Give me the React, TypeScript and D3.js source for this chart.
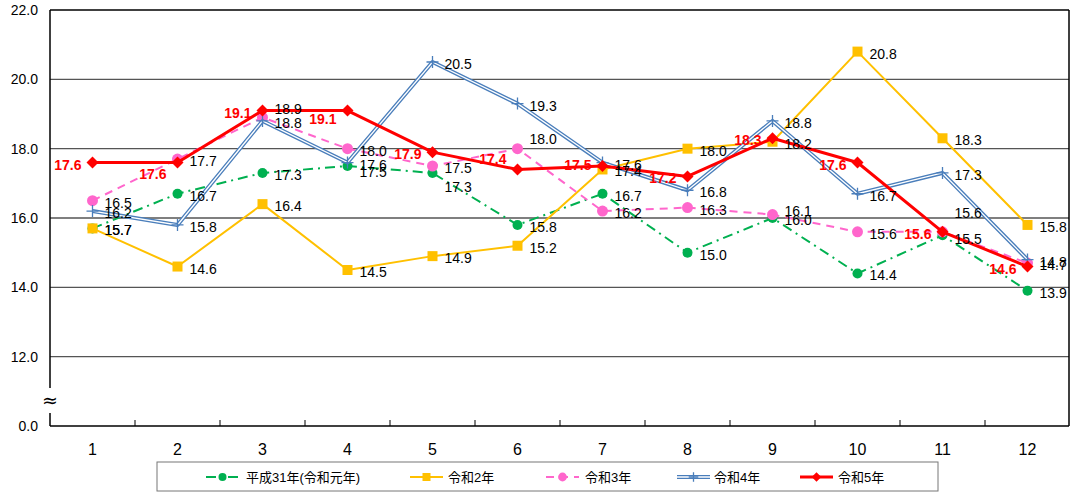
import React from "react";
import * as d3 from "d3";

const months = ["1", "2", "3", "4", "5", "6", "7", "8", "9", "10", "11", "12"];
const h31 = [15.7, 16.7, 17.3, 17.5, 17.3, 15.8, 16.7, 15.0, 16.0, 14.4, 15.5, 13.9];
const r2 = [15.7, 14.6, 16.4, 14.5, 14.9, 15.2, 17.4, 18.0, 18.2, 20.8, 18.3, 15.8];
const r3 = [16.5, 17.7, 18.9, 18.0, 17.5, 18.0, 16.2, 16.3, 16.1, 15.6, 15.6, 14.7];
const r4 = [16.2, 15.8, 18.8, 17.6, 20.5, 19.3, 17.6, 16.8, 18.8, 16.7, 17.3, 14.8];
const r5 = [17.6, 17.6, 19.1, 19.1, 17.9, 17.4, 17.5, 17.2, 18.3, 17.6, 15.6, 14.6];
const yTicks = [10, 12, 14, 16, 18, 20, 22];
const seriesNames = ["平成31年(令和元年)", "令和2年", "令和3年", "令和4年", "令和5年"];

// hand-moved data labels (series key -> month index -> vertical nudge in px)
const labelNudge: Record<string, Record<number, number>> = {
  h31: { 4: 12, 3: 4, 10: 2 },
  r3: { 2: -10, 5: -12, 8: -6, 10: -21 },
  r5: { 1: 9, 3: 6, 5: -12, 6: -3 },
};

const W = 1070;
const H = 493;
const left = 50, right = 1069, top = 10, bottom = 426;
const font = "'Liberation Sans', Arial, 'Noto Sans CJK JP', sans-serif";

const x = d3.scaleBand<string>().domain(months).range([left, right + 1]).padding(0);
const y = d3.scaleLinear().domain([10, 22]).range([bottom, top]);
const cx = (m: string) => (x(m) as number) + x.bandwidth() / 2;

type Kind = "circle" | "square" | "diamond" | "plus";

const styles = [
  { key: "h31", name: seriesNames[0], data: h31, color: "#00B050", dash: "10,5,2,5", width: 2, kind: "circle" as Kind, size: 5 },
  { key: "r2", name: seriesNames[1], data: r2, color: "#FFC000", dash: "", width: 2, kind: "square" as Kind, size: 5 },
  { key: "r3", name: seriesNames[2], data: r3, color: "#FF66CC", dash: "8,6", width: 2, kind: "circle" as Kind, size: 5.5 },
  { key: "r4", name: seriesNames[3], data: r4, color: "#4A7EBB", dash: "", width: 4, kind: "plus" as Kind, size: 6 },
  { key: "r5", name: seriesNames[4], data: r5, color: "#FF0000", dash: "", width: 3, kind: "diamond" as Kind, size: 6 },
];

function Marker({ kind, px, py, color, size }: { kind: Kind; px: number; py: number; color: string; size: number }) {
  if (kind === "circle") return <circle cx={px} cy={py} r={size} fill={color} />;
  if (kind === "square")
    return <rect x={px - size} y={py - size} width={size * 2} height={size * 2} fill={color} />;
  if (kind === "diamond")
    return (
      <path
        d={`M${px},${py - size}L${px + size},${py}L${px},${py + size}L${px - size},${py}Z`}
        fill={color}
      />
    );
  return (
    <path
      d={`M${px - size},${py}H${px + size}M${px},${py - size}V${py + size}`}
      stroke={color}
      strokeWidth={1.3}
    />
  );
}

function Series({ s }: { s: (typeof styles)[number] }) {
  const line = d3
    .line<number>()
    .x((_, i) => cx(months[i]))
    .y((d) => y(d));
  const d = line(s.data) || "";
  return (
    <g>
      <path d={d} fill="none" stroke={s.color} strokeWidth={s.width} strokeDasharray={s.dash} strokeLinejoin="round" />
      {s.kind === "plus" && <path d={d} fill="none" stroke="#fff" strokeWidth={1.3} />}
      {s.data.map((v, i) => (
        <Marker key={i} kind={s.kind} px={cx(months[i])} py={y(v)} color={s.color} size={s.size} />
      ))}
    </g>
  );
}

function Labels({ s, red }: { s: (typeof styles)[number]; red?: boolean }) {
  const nudge = labelNudge[s.key] || {};
  return (
    <g fontFamily={font} fontSize={14}>
      {s.data.map((v, i) => (
        <text
          key={i}
          x={red ? cx(months[i]) - 11 : cx(months[i]) + 12}
          y={y(v) + 7 + (nudge[i] || 0)}
          textAnchor={red ? "end" : "start"}
          fill={red ? "#FF0000" : "#000"}
          fontWeight={red ? "bold" : "normal"}
        >
          {v.toFixed(1)}
        </text>
      ))}
    </g>
  );
}

const legendItems = [
  { x0: 206, tx: 246 },
  { x0: 410, tx: 448 },
  { x0: 546, tx: 585 },
  { x0: 677, tx: 714 },
  { x0: 800, tx: 838 },
];

export default function App() {
  return (
    <svg width={W} height={H} style={{ position: "absolute", left: 0, top: 0, background: "#fff" }}>
      {/* grid */}
      {yTicks.filter((t) => t > 10 && t < 22).map((t) => (
        <line key={t} x1={left} x2={right} y1={y(t)} y2={y(t)} stroke="#555" strokeWidth={1.3} />
      ))}
      {/* frame */}
      <line x1={left} x2={right} y1={top} y2={top} stroke="#000" strokeWidth={1.5} />
      <line x1={right} x2={right} y1={top} y2={bottom} stroke="#000" strokeWidth={1.5} />
      <line x1={left} x2={left} y1={top} y2={388} stroke="#000" strokeWidth={1.5} />
      <line x1={left} x2={left} y1={413} y2={bottom} stroke="#000" strokeWidth={1.5} />
      <line x1={left} x2={right} y1={bottom} y2={bottom} stroke="#000" strokeWidth={1.5} />
      <text x={left} y={407} textAnchor="middle" fontFamily="'DejaVu Sans', sans-serif" fontSize={19} fill="#000">
        ≈
      </text>
      {months.slice(1).map((m) => (
        <line key={m} x1={x(m)} x2={x(m)} y1={bottom} y2={bottom - 6} stroke="#000" strokeWidth={1} />
      ))}
      {/* y labels */}
      {yTicks.map((t) => (
        <text key={t} x={38} y={y(t) + 5} textAnchor="end" fontFamily={font} fontSize={14} fill="#000">
          {t === 10 ? "0.0" : t.toFixed(1)}
        </text>
      ))}
      {/* x labels */}
      {months.map((m) => (
        <text key={m} x={cx(m)} y={455} textAnchor="middle" fontFamily={font} fontSize={16} fill="#000">
          {m}
        </text>
      ))}
      {styles.map((s) => (
        <Series key={s.name} s={s} />
      ))}
      {styles.slice(0, 4).map((s) => (
        <Labels key={s.name} s={s} />
      ))}
      <Labels s={styles[4]} red />
      {/* legend */}
      <rect x={157} y={462} width={781} height={29} fill="#fff" stroke="#777" strokeWidth={1} />
      {styles.map((s, i) => {
        const it = legendItems[i];
        const ly = 477;
        return (
          <g key={s.name}>
            <line x1={it.x0} x2={it.x0 + 33} y1={ly} y2={ly} stroke={s.color} strokeWidth={s.width} strokeDasharray={s.dash} />
            {s.kind === "plus" && <line x1={it.x0} x2={it.x0 + 33} y1={ly} y2={ly} stroke="#fff" strokeWidth={1.3} />}
            <Marker kind={s.kind} px={it.x0 + 16.5} py={ly} color={s.color} size={s.size * 0.8} />
            <text x={it.tx} y={ly + 4.5} fontFamily={font} fontSize={13} fill="#000">
              {s.name}
            </text>
          </g>
        );
      })}
    </svg>
  );
}
